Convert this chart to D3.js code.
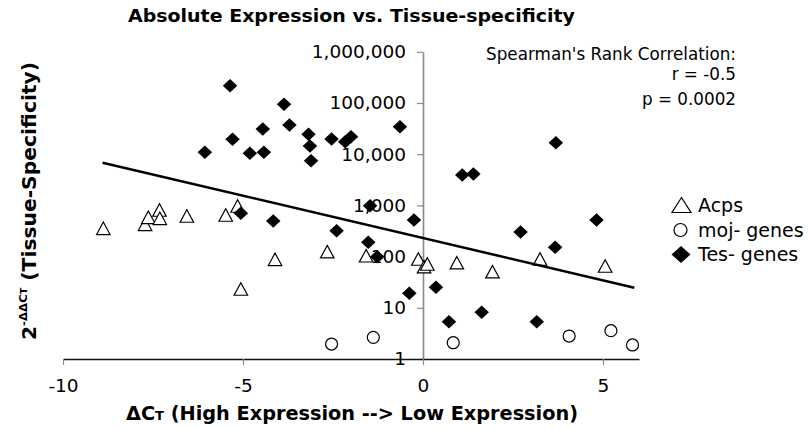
<!DOCTYPE html>
<html>
<head>
<meta charset="utf-8">
<script src="https://cdn.jsdelivr.net/npm/d3@7"></script>
<style>
  html, body { margin: 0; padding: 0; background: #fff; }
  svg { display: block; }
</style>
</head>
<body>
<svg id="chart" width="809" height="429"></svg>
<script>
// ---- data ----
const acpsX = [-8.88, -7.72, -7.63, -7.32, -7.31, -6.56, -5.48, -5.15, -4.11, -5.06, -2.66, -1.58, -0.13, 0.03, 0.12, 0.94, 1.93, 3.25, 5.06];
const acpsY = [357, 427, 586, 813, 560, 621, 650, 973, 88.5, 23.3, 125, 104, 89.8, 63.5, 71.7, 76, 50.7, 89.8, 65.5];

const mojX = [-2.54, -1.38, 0.84, 4.06, 5.22, 5.82];
const mojY = [1.96, 2.65, 2.08, 2.81, 3.57, 1.88];

const tesX = [-5.36, -6.06, -5.29, -4.81, -4.42, -4.45, -3.86, -3.71, -3.18, -3.14, -3.11, -2.54, -2.16, -2.00, -0.64, 3.69, 1.09, 1.40,
              -5.06, -4.16, -2.40, -1.47, -1.52, -1.27, -0.25, -0.38, 0.36, 0.72, 1.63, 2.71, 3.67, 3.16, 4.82];
const tesY = [218000, 10900, 19500, 10400, 10900, 31000, 94400, 37200, 24500, 14500, 7460, 19800, 17500, 22000, 34400, 16800, 3930, 4100,
              701, 496, 320, 986, 190, 99.6, 519, 19.2, 25.1, 5.35, 8.17, 302, 152, 5.35, 519];

// exponential trendline
const trendX = [-8.9, 5.87];
const trendY = [6820, 24.7];

const xTicks = [-10, -5, 0, 5];
const yTicks = [1, 10, 100, 1000, 10000, 100000, 1000000];

const seriesNames = ["Acps", "moj- genes", "Tes- genes"];
const statsLines = ["Spearman's Rank Correlation:", "r = -0.5", "p = 0.0002"];
const titleText = "Absolute Expression vs. Tissue-specificity";

// ---- drawing ----
const svg = d3.select("#chart");
const x = d3.scaleLinear().domain([-10, 6]).range([63, 639]);
const y = d3.scaleLog().domain([1, 1e6]).range([359, 51.8]);

const sans = "'DejaVu Sans', Verdana, sans-serif";
const boldFam = "'DejaVu Sans Condensed', 'DejaVu Sans', sans-serif";

// title
svg.append("text")
  .attr("x", 128).attr("y", 22)
  .attr("font-family", boldFam).attr("font-weight", "bold")
  .attr("font-size", 18)
  .attr("textLength", 447).attr("lengthAdjust", "spacingAndGlyphs")
  .text(titleText);

// y axis (at x = 0)
const yAxis = svg.append("g")
  .attr("transform", `translate(${x(0)},0)`)
  .call(d3.axisLeft(y).tickValues(yTicks).tickFormat(d3.format(",")).tickSize(6).tickSizeOuter(0).tickPadding(11));
yAxis.select(".domain").attr("stroke", "#8a8a8a").attr("stroke-width", 1.6);
yAxis.selectAll(".tick line").attr("stroke", "#8a8a8a").attr("stroke-width", 1.2);
yAxis.selectAll(".tick text").attr("font-family", sans).attr("font-size", 18.5).attr("fill", "#000");

// x axis (at y = 1)
const xAxis = svg.append("g")
  .attr("transform", `translate(0,${y(1)})`)
  .call(d3.axisBottom(x).tickValues(xTicks).tickFormat(d => String(d)).tickSize(6).tickSizeOuter(0).tickPadding(14));
xAxis.select(".domain").attr("stroke", "#111").attr("stroke-width", 1.3);
xAxis.selectAll(".tick line").attr("stroke", "#8a8a8a").attr("stroke-width", 1.2);
xAxis.selectAll(".tick text").attr("font-family", sans).attr("font-size", 18.5).attr("fill", "#000");

// x axis title
const xt = svg.append("text")
  .attr("x", 126).attr("y", 420)
  .attr("font-family", boldFam).attr("font-weight", "bold").attr("font-size", 19)
  .attr("textLength", 452).attr("lengthAdjust", "spacingAndGlyphs");
xt.append("tspan").text("\u0394C");
xt.append("tspan").attr("font-size", 13).text("T");
xt.append("tspan").text(" (High Expression --> Low Expression)");

// y axis title
const yt = svg.append("text")
  .attr("transform", "translate(36,340) rotate(-90)")
  .attr("font-family", boldFam).attr("font-weight", "bold").attr("font-size", 19)
  .attr("textLength", 278).attr("lengthAdjust", "spacingAndGlyphs");
yt.append("tspan").text("2");
yt.append("tspan").attr("font-size", 11).attr("dy", -9).text("-\u0394\u0394C");
yt.append("tspan").attr("font-size", 9).text("T");
yt.append("tspan").attr("dy", 9).text(" (Tissue-Specificity)");

// markers
const triPath = (w, h) => `M0,${-h/2}L${w/2},${h/2}L${-w/2},${h/2}Z`;
const diaPath = (w, h) => `M0,${-h/2}L${w/2},0L0,${h/2}L${-w/2},0Z`;

const acps = acpsX.map((v, i) => ({x: v, y: acpsY[i]}));
const moj = mojX.map((v, i) => ({x: v, y: mojY[i]}));
const tes = tesX.map((v, i) => ({x: v, y: tesY[i]}));

svg.append("g").selectAll("path").data(acps).join("path")
  .attr("transform", d => `translate(${x(d.x)},${y(d.y)})`)
  .attr("d", triPath(13.5, 12.5))
  .attr("fill", "#fff").attr("stroke", "#000").attr("stroke-width", 1.2);

svg.append("g").selectAll("circle").data(moj).join("circle")
  .attr("cx", d => x(d.x)).attr("cy", d => y(d.y)).attr("r", 6)
  .attr("fill", "#fff").attr("stroke", "#000").attr("stroke-width", 1.2);

svg.append("g").selectAll("path").data(tes).join("path")
  .attr("transform", d => `translate(${x(d.x)},${y(d.y)})`)
  .attr("d", diaPath(14.5, 13.5))
  .attr("fill", "#000");

// trendline
svg.append("path")
  .datum(trendX.map((v, i) => ({x: v, y: trendY[i]})))
  .attr("d", d3.line().x(d => x(d.x)).y(d => y(d.y)))
  .attr("fill", "none").attr("stroke", "#000").attr("stroke-width", 2.5);

// stats annotation
const statBaselines = [60, 79.5, 105];
svg.append("g").selectAll("text").data(statsLines).join("text")
  .attr("x", 736).attr("y", (d, i) => statBaselines[i])
  .attr("text-anchor", "end")
  .attr("font-family", sans).attr("font-size", 16.8)
  .text(d => d);

// legend
const legY = [205, 230, 254.5];
const leg = svg.append("g");
leg.append("path").attr("transform", `translate(681.5,${legY[0]})`).attr("d", triPath(19, 15))
  .attr("fill", "#fff").attr("stroke", "#000").attr("stroke-width", 1.2);
leg.append("circle").attr("cx", 680.5).attr("cy", legY[1]).attr("r", 6.5)
  .attr("fill", "#fff").attr("stroke", "#000").attr("stroke-width", 1.2);
leg.append("path").attr("transform", `translate(681,${legY[2]})`).attr("d", diaPath(19, 17))
  .attr("fill", "#000");
leg.selectAll("text").data(seriesNames).join("text")
  .attr("x", 698).attr("y", (d, i) => legY[i]).attr("dy", "0.36em")
  .attr("font-family", sans).attr("font-size", 19)
  .text(d => d);
</script>
</body>
</html>
